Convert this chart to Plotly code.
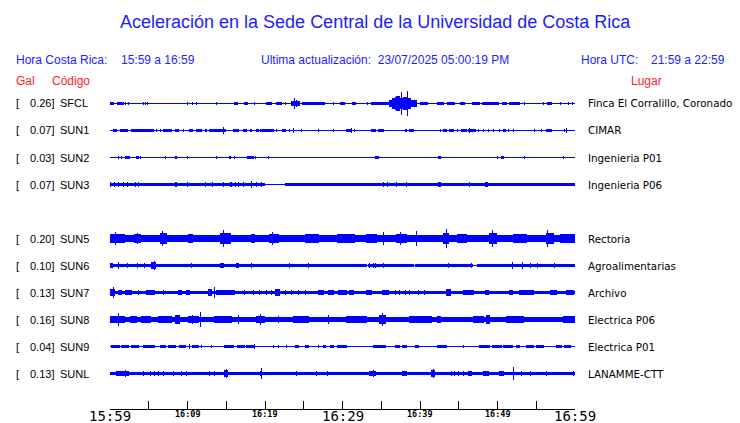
import math
import plotly.graph_objects as go

# ---------------- data ----------------
CODES = ["SFCL", "SUN1", "SUN2", "SUN3", "SUN5", "SUN6", "SUN7", "SUN8", "SUN9", "SUNL"]
GAL = [0.26, 0.07, 0.03, 0.07, 0.20, 0.10, 0.13, 0.16, 0.04, 0.13]
LUGAR = ["Finca El Corralillo, Coronado", "CIMAR", "Ingenieria P01", "Ingenieria P06",
         "Rectoria", "Agroalimentarias", "Archivo", "Electrica P06", "Electrica P01",
         "LANAMME-CTT"]
# background (noise) half-amplitude of each trace
NOISE = [0.5, 0.5, 0.5, 1.7, 3.3, 1.7, 1.5, 2.5, 0.7, 1.7]
# quiet stretches: (start min, end min, half amplitude)
QUIET = {
    "SUN3": [(20.0, 22.7, 0.5)],
    "SUN6": [(33.1, 33.3, 0.7), (39.1, 39.4, 0.7), (46.8, 47.4, 0.7)],
}
# bursts / spikes: (start min, end min, half amplitude), minutes after 15:59
EVENTS = {
    "SFCL": [(0.1, 0.5, 1.3), (1.0, 1.7, 1.3), (2.0, 2.0, 1.3), (2.4, 2.4, 1.3), (4.3, 4.3, 1.5),
             (4.6, 4.6, 1.5), (4.9, 4.9, 1.5), (10.0, 10.0, 1.3), (10.7, 10.7, 1.3), (11.2, 11.2, 1.3),
             (13.8, 13.8, 1.0), (16.1, 16.5, 1.2), (17.4, 17.8, 1.2), (18.7, 18.7, 1.2), (20.2, 20.9, 1.3),
             (21.5, 22.1, 1.3), (22.6, 22.6, 1.3), (23.4, 24.5, 2.0), (23.8, 23.8, 5.3), (24.1, 24.1, 3.7),
             (24.8, 25.3, 1.7), (25.5, 27.7, 1.6), (28.9, 28.9, 1.3), (29.7, 30.3, 1.3), (31.3, 31.7, 1.3),
             (33.2, 33.2, 0.8), (33.8, 36.1, 1.6), (36.1, 36.4, 3.0), (36.4, 36.8, 5.0), (36.8, 37.0, 6.5),
             (37.0, 37.4, 7.5), (37.4, 38.0, 5.0), (37.6, 37.6, 11.5), (37.9, 38.3, 6.5), (38.4, 38.4, 12.0),
             (38.5, 38.8, 5.0), (38.8, 39.6, 3.0), (40.0, 41.0, 1.3), (42.2, 43.0, 1.3), (43.6, 44.5, 1.3),
             (45.2, 45.8, 1.3), (46.8, 47.7, 1.0), (48.1, 50.1, 1.6), (50.7, 51.2, 1.3), (51.6, 52.9, 1.3),
             (53.5, 53.5, 1.3), (55.9, 55.9, 1.3), (56.4, 57.0, 1.0), (58.1, 58.1, 1.0), (59.1, 59.1, 1.3),
             (59.7, 59.7, 0.8)],
    "SUN1": [(0.4, 0.9, 1.3), (1.3, 2.2, 1.3), (2.8, 5.6, 1.7), (6.0, 6.0, 1.3), (6.5, 6.5, 1.3),
             (6.9, 7.3, 1.3), (7.3, 8.0, 1.7), (8.4, 8.8, 1.3), (9.5, 9.5, 0.8), (10.3, 10.7, 1.3),
             (11.2, 11.8, 1.3), (12.3, 12.5, 1.3), (12.9, 14.2, 1.7), (14.2, 14.9, 1.3), (14.6, 14.6, 3.3),
             (15.9, 16.6, 1.3), (17.2, 17.6, 1.3), (18.1, 18.3, 1.3), (18.9, 19.1, 1.3), (19.4, 21.1, 1.7),
             (21.5, 21.5, 1.3), (22.2, 22.6, 1.3), (23.2, 23.2, 1.3), (23.7, 23.7, 2.7), (24.7, 24.7, 1.0),
             (26.9, 26.9, 1.0), (28.8, 28.8, 1.0), (30.5, 31.2, 1.3), (31.2, 31.2, 2.3), (31.6, 31.6, 1.0),
             (33.8, 34.2, 1.3), (34.6, 35.3, 1.3), (38.1, 38.3, 1.3), (38.6, 39.2, 1.3), (42.6, 42.6, 1.3),
             (43.0, 43.4, 1.3), (43.8, 44.3, 1.3), (44.9, 44.9, 1.0), (45.4, 46.0, 1.7), (46.2, 46.7, 1.7),
             (46.4, 46.4, 2.3), (46.7, 47.1, 1.3), (47.5, 47.5, 1.0), (48.2, 48.2, 1.0), (48.8, 48.8, 1.0),
             (49.5, 49.5, 1.0), (50.2, 50.2, 1.0), (50.8, 51.0, 1.3), (51.4, 51.4, 1.0), (52.0, 52.0, 1.0),
             (54.8, 54.8, 1.0), (55.7, 55.7, 1.0), (56.3, 57.0, 1.3), (58.7, 58.7, 1.0), (58.9, 58.9, 2.3)],
    "SUN2": [(1.1, 1.1, 1.0), (1.5, 1.5, 1.0), (2.0, 2.5, 1.3), (3.4, 3.7, 1.3), (3.9, 3.9, 1.0),
             (7.1, 7.1, 1.0), (8.4, 8.6, 1.3), (10.0, 10.0, 0.8), (13.8, 13.8, 0.8), (15.4, 15.6, 1.3),
             (16.0, 16.0, 1.0), (17.8, 18.5, 1.3), (18.8, 18.8, 1.0), (20.4, 20.4, 1.0), (34.2, 34.5, 1.3),
             (34.7, 34.7, 1.0), (42.4, 42.7, 1.7), (50.0, 50.0, 1.0), (50.5, 50.8, 1.3), (53.5, 53.5, 0.8),
             (58.5, 58.5, 0.8)],
    "SUN3": [(0.1, 0.1, 2.7), (0.6, 0.6, 2.7), (1.1, 1.1, 2.3), (1.7, 1.7, 2.3), (2.2, 2.2, 2.3),
             (3.3, 3.3, 2.7), (3.7, 3.7, 2.7), (8.4, 8.6, 2.7), (10.0, 10.0, 2.3), (12.3, 12.3, 2.3),
             (13.2, 13.2, 2.3), (14.6, 14.6, 2.7), (15.5, 15.7, 2.7), (16.2, 16.2, 2.3), (16.6, 16.6, 2.3),
             (17.2, 17.2, 2.3), (18.3, 18.3, 3.7), (18.9, 18.9, 2.3), (19.6, 19.6, 2.3), (35.3, 35.3, 2.7),
             (35.8, 35.8, 2.7), (37.0, 37.0, 2.7), (38.3, 38.3, 2.3), (42.4, 42.6, 2.7), (46.4, 46.4, 2.7),
             (48.5, 48.7, 2.7)],
    "SUN5": [(0.0, 1.9, 4.5), (0.7, 0.7, 6.0), (3.2, 3.9, 4.5), (3.5, 3.5, 5.5), (6.5, 7.3, 5.5),
             (6.8, 6.8, 7.0), (10.1, 10.6, 4.5), (14.3, 15.5, 5.5), (14.7, 14.7, 8.3), (18.3, 18.7, 4.5),
             (20.6, 21.7, 4.5), (21.0, 21.0, 6.0), (25.2, 26.9, 4.5), (29.4, 31.6, 4.5), (33.1, 34.4, 4.5),
             (35.3, 35.3, 6.3), (37.0, 38.3, 4.5), (37.5, 37.5, 6.0), (39.6, 39.6, 7.0), (43.0, 43.7, 5.5),
             (43.4, 43.4, 9.3), (44.9, 46.0, 4.5), (49.0, 49.9, 5.5), (49.3, 49.3, 8.0), (52.0, 53.8, 4.5),
             (56.3, 57.2, 5.5), (56.5, 56.5, 8.7), (58.1, 60.0, 4.5)],
    "SUN6": [(0.0, 0.3, 2.7), (1.1, 1.1, 3.3), (2.3, 2.3, 2.3), (3.6, 3.6, 2.3), (4.4, 4.4, 2.3),
             (5.3, 5.9, 3.0), (5.7, 5.7, 4.0), (10.5, 10.5, 2.3), (14.2, 14.6, 2.7), (16.3, 16.6, 2.7),
             (18.3, 18.3, 2.0), (23.2, 23.2, 2.0), (25.6, 25.6, 2.0), (33.5, 33.5, 2.3), (34.0, 34.0, 2.3),
             (34.2, 34.2, 2.3), (35.3, 35.3, 2.3), (43.7, 43.7, 2.3), (46.7, 46.7, 2.0), (51.9, 51.9, 3.7),
             (53.2, 53.2, 3.7), (54.2, 54.2, 2.3), (55.1, 55.1, 2.3), (57.4, 57.4, 2.7)],
    "SUN7": [(0.0, 0.6, 3.0), (0.4, 0.4, 5.3), (1.1, 1.5, 2.3), (2.0, 2.8, 2.7), (3.7, 3.7, 2.3),
             (4.7, 5.8, 2.3), (6.9, 6.9, 2.3), (8.8, 9.2, 2.7), (9.9, 10.3, 2.3), (12.7, 13.1, 3.0),
             (13.5, 13.5, 5.3), (13.8, 16.1, 2.3), (17.4, 17.4, 2.0), (18.5, 18.5, 2.0), (19.3, 19.3, 2.0),
             (20.2, 20.2, 2.0), (20.9, 20.9, 2.0), (21.3, 21.9, 3.0), (22.6, 22.6, 2.0), (23.4, 23.4, 2.0),
             (24.3, 24.3, 2.0), (25.2, 25.2, 2.0), (26.9, 27.5, 2.0), (28.2, 28.8, 2.0), (29.5, 30.5, 2.3),
             (30.9, 31.4, 2.0), (33.1, 33.8, 2.3), (35.1, 35.9, 2.7), (36.8, 36.8, 2.3), (37.4, 37.4, 2.3),
             (38.1, 38.1, 2.3), (38.7, 38.7, 2.3), (39.8, 39.8, 2.3), (40.6, 40.6, 2.3), (43.4, 43.9, 3.0),
             (45.6, 46.9, 2.3), (48.4, 48.8, 2.3), (51.6, 52.0, 2.7), (52.9, 54.6, 2.3), (56.8, 57.6, 2.3),
             (58.9, 59.8, 2.3)],
    "SUN8": [(0.0, 1.9, 3.7), (1.1, 1.1, 6.0), (2.6, 3.4, 3.3), (4.1, 5.2, 3.7), (6.2, 8.0, 3.3),
             (8.4, 9.0, 4.7), (10.1, 11.4, 3.7), (10.6, 10.6, 4.7), (11.7, 11.7, 7.3), (13.5, 15.7, 3.7),
             (16.6, 16.6, 4.7), (18.9, 20.0, 3.7), (19.4, 19.4, 5.0), (21.7, 21.7, 3.3), (23.7, 25.6, 3.7),
             (28.2, 28.2, 4.0), (30.5, 33.1, 3.7), (34.8, 35.5, 4.7), (35.2, 35.2, 6.0), (38.7, 41.5, 3.7),
             (42.2, 42.6, 3.7), (46.9, 48.2, 3.7), (48.6, 49.0, 4.7), (51.2, 53.3, 3.7), (58.5, 60.0, 3.7)],
    "SUN9": [(0.2, 1.2, 1.7), (1.5, 2.4, 1.7), (2.8, 3.7, 1.7), (4.3, 5.8, 1.7), (6.5, 7.1, 1.7),
             (7.5, 8.4, 1.7), (9.0, 9.7, 1.7), (10.3, 10.3, 2.7), (10.7, 11.4, 1.7), (11.8, 11.8, 1.7),
             (13.1, 13.1, 1.7), (14.8, 16.0, 1.7), (16.4, 17.3, 1.7), (17.6, 18.7, 1.7), (18.7, 18.7, 2.7),
             (21.1, 21.1, 1.7), (21.7, 21.7, 1.7), (22.8, 22.8, 1.7), (23.9, 24.3, 1.7), (25.2, 25.6, 1.7),
             (26.9, 26.9, 1.7), (27.5, 27.8, 1.7), (28.4, 28.8, 1.7), (29.3, 30.5, 1.7), (34.0, 35.5, 1.7),
             (36.8, 37.4, 1.7), (37.8, 38.3, 1.7), (39.4, 39.8, 1.7), (42.2, 43.4, 1.7), (45.6, 45.6, 1.7),
             (47.7, 49.0, 1.7), (49.4, 50.5, 1.7), (50.8, 52.0, 1.7), (52.5, 52.9, 1.7), (53.8, 54.6, 1.7),
             (55.0, 55.9, 1.7), (57.6, 58.3, 1.7), (58.7, 59.4, 1.7)],
    "SUNL": [(0.9, 2.4, 2.5), (2.0, 2.0, 3.7), (4.3, 4.3, 2.3), (5.2, 5.2, 2.3), (5.8, 5.8, 2.3),
             (6.2, 6.2, 2.3), (6.9, 6.9, 2.3), (8.2, 8.2, 2.3), (9.2, 9.2, 2.3), (9.9, 9.9, 2.3),
             (12.9, 12.9, 2.3), (13.5, 13.5, 2.3), (14.8, 15.2, 3.7), (15.0, 15.0, 4.7), (19.4, 19.6, 2.7),
             (19.5, 19.5, 5.7), (24.1, 24.1, 2.3), (26.7, 26.7, 2.3), (28.0, 28.0, 2.3), (33.5, 34.2, 2.7),
             (34.0, 34.0, 3.3), (37.8, 38.3, 2.7), (41.5, 41.9, 3.7), (41.7, 41.7, 4.7), (44.1, 44.1, 2.3),
             (44.5, 44.5, 2.3), (45.0, 45.0, 2.3), (45.6, 45.6, 2.3), (46.2, 46.7, 2.7), (48.2, 48.8, 2.7),
             (50.3, 50.8, 2.7), (52.0, 52.0, 6.3), (53.1, 53.1, 2.3), (54.2, 54.2, 2.3), (56.3, 56.3, 2.3),
             (59.8, 59.8, 2.3)],
}
TICK_MINUTES = [0, 10, 20, 30, 40, 50, 60]
TICK_LABELS = ["15:59", "16:09", "16:19", "16:29", "16:39", "16:49", "16:59"]
MAJOR_LABELS = ["15:59", "16:29", "16:59"]
SPAN_MIN = 60

TITLE = "Aceleración en la Sede Central de la Universidad de Costa Rica"
HDR_LOCAL = ("Hora Costa Rica:", "15:59 a 16:59")
HDR_UPDATE = "Ultima actualización:  23/07/2025 05:00:19 PM"
HDR_UTC = ("Hora UTC:", "21:59 a 22:59")

# ---------------- build figure ----------------
W, H = 740, 423
X0, X1 = 110, 575          # pixel extent of time axis
AXIS_Y = 409               # pixel row of time axis line
ROW0, ROW_STEP = 103.5, 27  # first trace row (pixel centre) and row spacing
PPM = (X1 - X0) / SPAN_MIN  # pixels per minute
BLUE_TRACE = "#0000ff"
BLUE_TXT = "#1c1cff"
RED_TXT = "#ff1c1c"

xs, ws, bases, hs = [], [], [], []


def add_bar(t0, t1, amp, off):
    # snap to whole screen pixels so the thin strokes stay crisp
    p0 = math.floor(t0 * PPM + 1e-6)
    p1 = max(math.ceil(t1 * PPM - 1e-6), p0 + 1)
    a = math.floor(amp + 0.2) + 0.5
    xs.append((p0 + p1) / 2.0 / PPM)
    ws.append((p1 - p0) / PPM)
    bases.append(off - a)
    hs.append(2 * a)


slots = []
for i, code in enumerate(CODES):
    slot = i if i < 4 else i + 1   # SUN4 row is empty
    slots.append(slot)
    off = slot * ROW_STEP
    quiet = sorted(QUIET.get(code, []))
    cur = 0.0
    for q0, q1, qa in quiet:
        if q0 > cur:
            add_bar(cur, q0, NOISE[i], off)
        add_bar(q0, q1, qa, off)
        cur = q1
    if cur < SPAN_MIN:
        add_bar(cur, SPAN_MIN, NOISE[i], off)
    for t0, t1, a in EVENTS[code]:
        add_bar(t0, t1, a, off)

fig = go.Figure()
fig.add_trace(go.Bar(x=xs, y=hs, base=bases, width=ws,
                     marker=dict(color=BLUE_TRACE, line=dict(width=0)),
                     hoverinfo="skip", showlegend=False))


def px(x):
    return x / W


def py(y):
    return (H - y) / H


ann = []
FONT_HDR = "Liberation Sans, Arial, sans-serif"
FONT_LBL = "DejaVu Sans, sans-serif"

ann.append(dict(text=TITLE, x=px(375), y=py(22), xanchor="center", yanchor="middle",
                font=dict(family=FONT_HDR, size=18, color=BLUE_TXT)))
ann.append(dict(text=HDR_LOCAL[0], x=px(14), y=py(60), xanchor="left", yanchor="middle",
                font=dict(family=FONT_HDR, size=12, color=BLUE_TXT)))
ann.append(dict(text=HDR_LOCAL[1], x=px(119), y=py(60), xanchor="left", yanchor="middle",
                font=dict(family=FONT_HDR, size=12, color=BLUE_TXT)))
ann.append(dict(text=HDR_UPDATE.replace("  ", "\u00a0 "), x=px(259), y=py(60), xanchor="left", yanchor="middle",
                font=dict(family=FONT_HDR, size=12, color=BLUE_TXT)))
ann.append(dict(text=HDR_UTC[0], x=px(579), y=py(60), xanchor="left", yanchor="middle",
                font=dict(family=FONT_HDR, size=12, color=BLUE_TXT)))
ann.append(dict(text=HDR_UTC[1], x=px(649), y=py(60), xanchor="left", yanchor="middle",
                font=dict(family=FONT_HDR, size=12, color=BLUE_TXT)))
ann.append(dict(text="Gal", x=px(14), y=py(81), xanchor="left", yanchor="middle",
                font=dict(family=FONT_HDR, size=12, color=RED_TXT)))
ann.append(dict(text="Código", x=px(50), y=py(81), xanchor="left", yanchor="middle",
                font=dict(family=FONT_HDR, size=12, color=RED_TXT)))
ann.append(dict(text="Lugar", x=px(646), y=py(81), xanchor="center", yanchor="middle",
                font=dict(family=FONT_HDR, size=12, color=RED_TXT)))

for i, code in enumerate(CODES):
    yy = ROW0 + slots[i] * ROW_STEP
    ann.append(dict(text="[", x=px(14), y=py(yy), xanchor="left", yanchor="middle",
                    font=dict(family=FONT_HDR, size=11, color="black")))
    ann.append(dict(text=f"{GAL[i]:.2f}]", x=px(55.5), y=py(yy), xanchor="right", yanchor="middle",
                    font=dict(family=FONT_HDR, size=11, color="black")))
    ann.append(dict(text=code, x=px(58), y=py(yy), xanchor="left", yanchor="middle",
                    font=dict(family=FONT_HDR, size=11, color="black")))
    ann.append(dict(text=LUGAR[i], x=px(586), y=py(yy), xanchor="left", yanchor="middle",
                    font=dict(family=FONT_LBL, size=10.3, color="black")))

for t, lab in zip(TICK_MINUTES, TICK_LABELS):
    major = lab in MAJOR_LABELS
    ann.append(dict(text=f"<b>{lab}</b>" if not major else lab,
                    x=t, xref="x", y=py(416 if major else 414), yref="paper",
                    xanchor="center", yanchor="middle",
                    font=dict(family="DejaVu Sans Mono, monospace",
                              size=14 if major else 8.5, color="black")))

for a in ann:
    a.setdefault("xref", "paper")
    a.setdefault("yref", "paper")
    a["showarrow"] = False

fig.update_layout(
    width=W, height=H,
    margin=dict(l=0, r=0, t=0, b=0),
    paper_bgcolor="white", plot_bgcolor="white",
    barmode="overlay", bargap=0,
    showlegend=False,
    annotations=ann,
    xaxis=dict(domain=[X0 / W, X1 / W], range=[0, SPAN_MIN], showgrid=False, zeroline=False,
               showline=True, linecolor="black", linewidth=1,
               ticks="inside", ticklen=8, tickwidth=1, tickcolor="black",
               tickvals=list(range(0, SPAN_MIN + 1, 5)), showticklabels=False, fixedrange=True),
    yaxis=dict(domain=[(H - AXIS_Y) / H, 1],
               range=[AXIS_Y - ROW0, -ROW0], visible=False, fixedrange=True),
)

fig.write_html("out.html", config={"displayModeBar": False},
               post_script="document.body.style.margin='0';document.body.style.overflow='hidden';")
